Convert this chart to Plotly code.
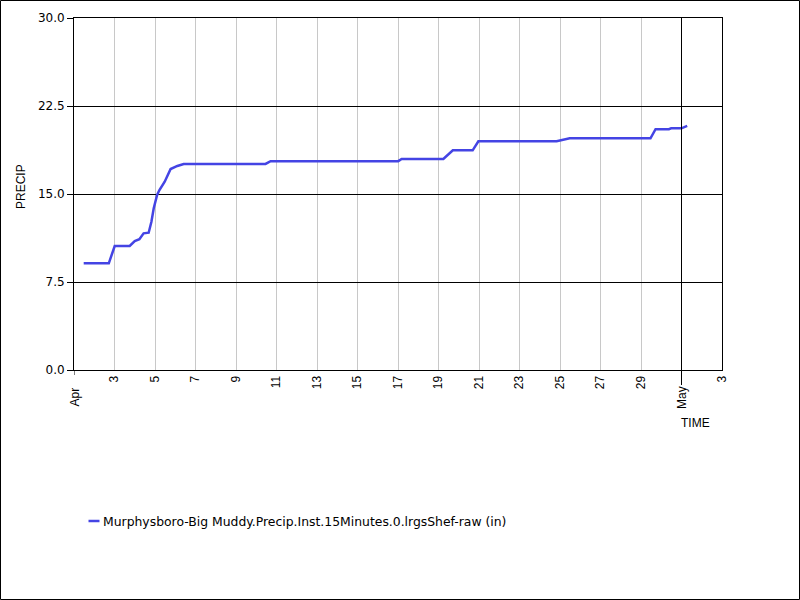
import plotly.graph_objects as go

# ---- data ----
times = [
    "2021-04-01 11:30", "2021-04-02 17:15", "2021-04-03 00:15", "2021-04-03 18:00",
    "2021-04-04 00:00", "2021-04-04 05:30", "2021-04-04 10:30", "2021-04-04 16:30",
    "2021-04-04 19:45", "2021-04-04 22:30", "2021-04-05 02:30", "2021-04-05 05:15",
    "2021-04-05 11:30", "2021-04-05 18:30", "2021-04-06 02:30", "2021-04-06 10:00",
    "2021-04-10 11:00", "2021-04-10 17:00", "2021-04-17 00:15", "2021-04-17 04:20",
    "2021-04-19 05:45", "2021-04-19 17:00", "2021-04-20 16:30", "2021-04-20 23:15",
    "2021-04-24 20:00", "2021-04-25 11:30", "2021-04-29 11:15", "2021-04-29 17:15",
    "2021-04-30 09:00", "2021-04-30 11:45", "2021-05-01 00:00", "2021-05-01 06:45",
]
precip = [
    9.09, 9.09, 10.57, 10.57,
    10.99, 11.14, 11.65, 11.70,
    12.64, 13.78, 14.92, 15.34,
    16.05, 17.13, 17.39, 17.56,
    17.56, 17.80, 17.80, 17.98,
    17.98, 18.72, 18.72, 19.49,
    19.49, 19.75, 19.75, 20.52,
    20.52, 20.60, 20.60, 20.80,
]
series_name = "Murphysboro-Big Muddy.Precip.Inst.15Minutes.0.lrgsShef-raw (in)"

x_tick_vals = ["2021-04-%02d" % d for d in range(3, 30, 2)] + ["2021-05-03"]
x_tick_text = [str(d) for d in range(3, 30, 2)] + ["3"]
month_vals = ["2021-04-01", "2021-05-01"]
month_text = ["Apr", "May"]
x_range = ["2021-04-01", "2021-05-03"]

y_tick_vals = [0, 7.5, 15, 22.5, 30]
y_tick_text = ["0.0", "7.5", "15.0", "22.5", "30.0"]
y_range = [0, 30]

# ---- layout geometry (pixels) ----
W, H = 800, 600
L, R, T, B = 74, 78, 18, 230
PW, PH = W - L - R, H - T - B


def px(xp):
    return (xp - L) / PW


def py(yp):
    return (H - B - yp) / PH


fig = go.Figure()
fig.add_trace(go.Scatter(
    x=times, y=precip, mode="lines", name=series_name,
    line=dict(color="#4444e4", width=2.5), showlegend=False,
))

shapes = [
    dict(type="line", xref="x", yref="paper", x0=month_vals[1], x1=month_vals[1],
         y0=py(385), y1=1, line=dict(color="black", width=1)),
    dict(type="line", xref="x", yref="paper", x0=month_vals[0], x1=month_vals[0],
         y0=py(375), y1=0, line=dict(color="black", width=1)),
    dict(type="rect", xref="paper", yref="paper", x0=px(0.5), x1=px(799.5),
         y0=py(599.5), y1=py(0.5), line=dict(color="black", width=1)),
    dict(type="line", xref="paper", yref="paper", x0=px(88.5), x1=px(99.5),
         y0=py(521), y1=py(521), line=dict(color="#4444e4", width=2.5)),
]

annotations = []
for v, t in zip(month_vals, month_text):
    annotations.append(dict(
        x=v, xref="x", y=py(397.5), yref="paper", text=t, showarrow=False,
        textangle=-90, xanchor="center", yanchor="middle",
        font=dict(family="Liberation Sans, Arial", size=12, color="black")))
annotations.append(dict(
    x=px(695), xref="paper", y=py(423.5), yref="paper", text="TIME", showarrow=False,
    xanchor="center", yanchor="middle",
    font=dict(family="Liberation Sans, Arial", size=12, color="black")))
annotations.append(dict(
    x=px(21), xref="paper", y=py(187), yref="paper", text="PRECIP", showarrow=False,
    textangle=-90, xanchor="center", yanchor="middle",
    font=dict(family="Liberation Sans, Arial", size=12, color="black")))
annotations.append(dict(
    x=px(100.5), xref="paper", y=py(521), yref="paper", text=series_name, showarrow=False,
    xanchor="left", yanchor="middle",
    font=dict(family="DejaVu Sans", size=12.4, color="black")))

fig.update_layout(
    width=W, height=H, autosize=False,
    margin=dict(l=L, r=R, t=T, b=B, pad=0),
    paper_bgcolor="white", plot_bgcolor="white",
    showlegend=False,
    shapes=shapes, annotations=annotations,
    xaxis=dict(
        type="date", range=x_range, tickmode="array",
        tickvals=x_tick_vals, ticktext=x_tick_text, tickangle=-90,
        ticks="", showgrid=True, gridcolor="#c8c8c8", gridwidth=1,
        showline=True, linecolor="black", linewidth=1, mirror=True,
        zeroline=False,
        tickfont=dict(family="Liberation Sans, Arial", size=12, color="black"),
    ),
    yaxis=dict(
        range=y_range, tickmode="array", tickvals=y_tick_vals, ticktext=y_tick_text,
        ticks="outside", ticklen=6, tickcolor="black",
        showgrid=True, gridcolor="black", gridwidth=1,
        showline=True, linecolor="black", linewidth=1, mirror=True,
        zeroline=False,
        tickfont=dict(family="DejaVu Sans", size=12, color="black"),
    ),
)

fig.write_html(
    "out.html",
    config={"displayModeBar": False},
    post_script="document.body.style.margin='0px';document.body.style.overflow='hidden';",
)
